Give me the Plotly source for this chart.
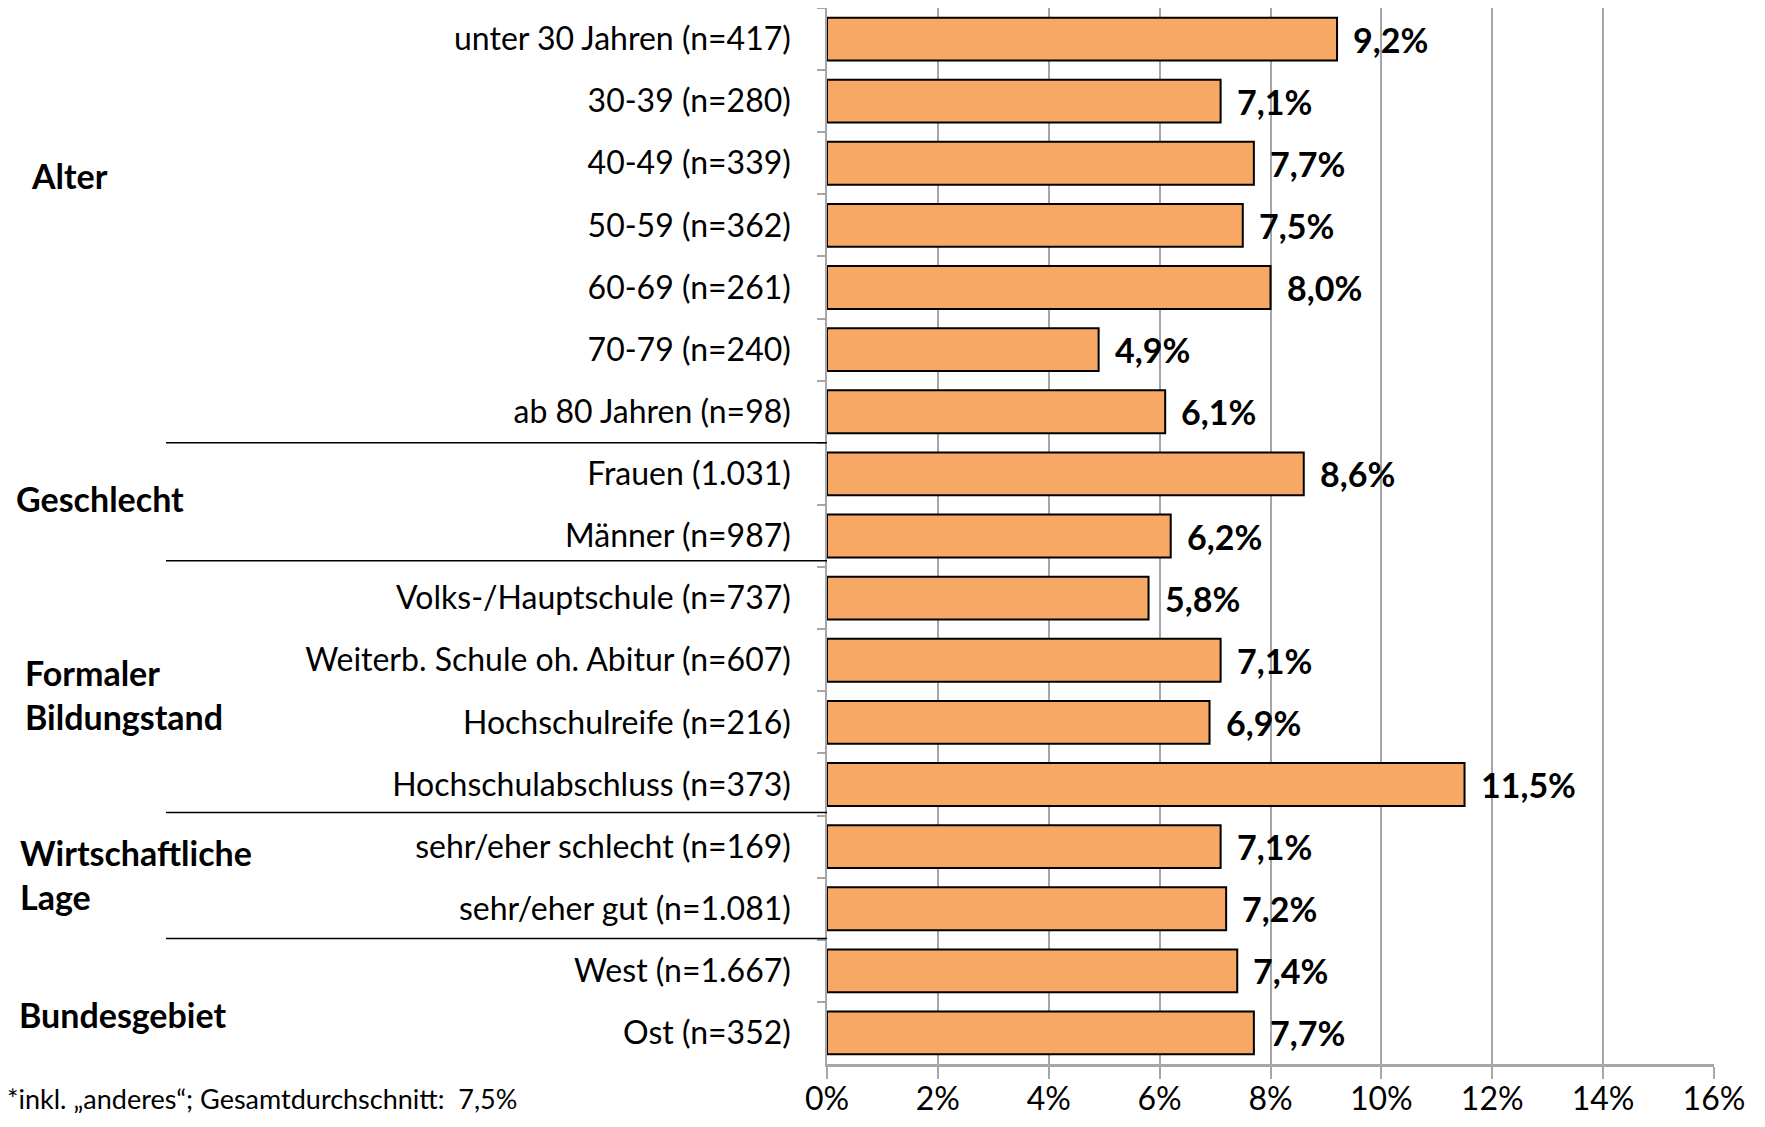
import plotly.graph_objects as go

categories = [
    "unter 30 Jahren (n=417)", "30-39 (n=280)", "40-49 (n=339)", "50-59 (n=362)",
    "60-69 (n=261)", "70-79 (n=240)", "ab 80 Jahren (n=98)",
    "Frauen (1.031)", "Männer (n=987)",
    "Volks-/Hauptschule (n=737)", "Weiterb. Schule oh. Abitur (n=607)",
    "Hochschulreife (n=216)", "Hochschulabschluss (n=373)",
    "sehr/eher schlecht (n=169)", "sehr/eher gut (n=1.081)",
    "West (n=1.667)", "Ost (n=352)",
]
values = [9.2, 7.1, 7.7, 7.5, 8.0, 4.9, 6.1, 8.6, 6.2, 5.8, 7.1, 6.9, 11.5, 7.1, 7.2, 7.4, 7.7]
value_labels = [f"{v:.1f}%".replace(".", ",") for v in values]

groups = ["Alter", "Geschlecht", "Formaler<br>Bildungstand", "Wirtschaftliche<br>Lage", "Bundesgebiet"]
group_pos = [2.2, 7.4, 10.55, 13.45, 15.7]
group_left = [21, 6, 15, 10, 9]
separators = [6.5, 8.4, 12.45, 14.48]

footnote = "*inkl. „anderes“; Gesamtdurchschnitt:  7,5%"

FONT = "Lato, sans-serif"
# page has an 8px body margin, so the figure is a bit smaller than the window
W, H = 1749, 1111
L, R, T, B = 819, 43, 0, 55
plot_w = W - L - R


def xpaper(px):
    return (px - L) / plot_w


fig = go.Figure()
fig.add_trace(go.Bar(
    x=values,
    y=categories,
    orientation="h",
    marker=dict(color="#F8A865", line=dict(color="black", width=2)),
    hoverinfo="skip",
    showlegend=False,
))

annotations = []
for v, c, t in zip(values, categories, value_labels):
    annotations.append(dict(
        x=v, y=c, xref="x", yref="y", text=f"<b>{t}</b>",
        showarrow=False, xanchor="left", xshift=14,
        font=dict(family=FONT, size=34, color="black"),
    ))

for g, p, left in zip(groups, group_pos, group_left):
    annotations.append(dict(
        x=xpaper(left), y=p, xref="paper", yref="y", text=f"<b>{g}</b>",
        showarrow=False, xanchor="left", align="left",
        font=dict(family=FONT, size=34, color="black"),
    ))

annotations.append(dict(
    x=xpaper(-3), y=-0.033, xref="paper", yref="paper", text=footnote,
    showarrow=False, xanchor="left", yanchor="middle",
    font=dict(family=FONT, size=27, color="black"),
))

shapes = []
for s in separators:
    shapes.append(dict(
        type="line", xref="paper", yref="y",
        x0=xpaper(158), x1=0, y0=s, y1=s,
        line=dict(color="black", width=1.5),
    ))

fig.update_layout(
    width=W, height=H,
    margin=dict(l=L, r=R, t=T, b=B, autoexpand=False),
    plot_bgcolor="white",
    paper_bgcolor="white",
    bargap=0.31,
    font=dict(family=FONT, size=32, color="black"),
    annotations=annotations,
    shapes=shapes,
    xaxis=dict(
        range=[0, 16], dtick=2, ticksuffix="%",
        showgrid=True, gridcolor="#a6a6a6", gridwidth=1.5,
        zeroline=False, automargin=False,
        showline=True, linecolor="#a6a6a6", linewidth=3,
        ticks="outside", ticklen=12, tickcolor="#a6a6a6", tickwidth=1.5,
        ticklabelstandoff=-7,
        tickfont=dict(family=FONT, size=32, color="black"),
    ),
    yaxis=dict(
        autorange="reversed", automargin=False,
        showline=True, linecolor="#a6a6a6", linewidth=1.5,
        ticks="outside", tickson="boundaries", ticklen=8,
        tickcolor="#a6a6a6", tickwidth=1.5,
        ticklabelstandoff=28,
        tickfont=dict(family=FONT, size=32, color="black"),
        showgrid=False,
    ),
)

fig.write_html("out.html")
